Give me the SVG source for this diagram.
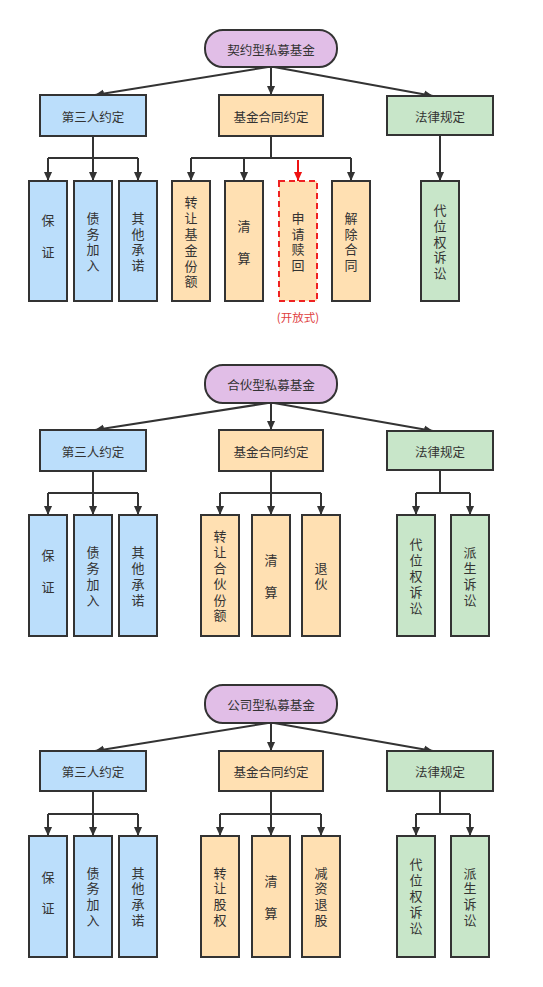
<svg xmlns="http://www.w3.org/2000/svg" width="543" height="987" viewBox="0 0 543 987">
<style>
  text { font-family: "Noto Sans CJK SC", "Noto Sans", sans-serif; fill: #333; dominant-baseline: central; text-anchor: middle; }
  .t { font-size: 12.5px; }
  .v { font-size: 13px; writing-mode: vertical-rl; letter-spacing: 2.8px; }
  .root { fill: #e1bee7; stroke: #333; stroke-width: 2; }
  .blue { fill: #bbdefb; stroke: #333; stroke-width: 2; }
  .orange { fill: #ffe0b2; stroke: #333; stroke-width: 2; }
  .green { fill: #c8e6c9; stroke: #333; stroke-width: 2; }
  .dash { fill: #ffe0b2; stroke: #ee2222; stroke-width: 2; stroke-dasharray: 6 4; }
  .c { fill: none; stroke: #333; stroke-width: 2; }
  .a { fill: none; stroke: #333; stroke-width: 2; marker-end: url(#ah); }
  .ar { fill: none; stroke: #ee1111; stroke-width: 2; marker-end: url(#ahr); }
  .red { fill: #e04040; font-size: 11.5px; }
</style>
<defs>
  <marker id="ah" viewBox="0 0 10 10" refX="10" refY="5" markerWidth="9" markerHeight="9" markerUnits="userSpaceOnUse" orient="auto">
    <path d="M0,0.5 L10,5 L0,9.5 z" fill="#333"/>
  </marker>
  <marker id="ahr" viewBox="0 0 10 10" refX="10" refY="5" markerWidth="9" markerHeight="9" markerUnits="userSpaceOnUse" orient="auto">
    <path d="M0,0.5 L10,5 L0,9.5 z" fill="#ee1111"/>
  </marker>
</defs>
<rect width="543" height="987" fill="#fff"/>

<!-- ===== Section 1 ===== -->
<g id="sec1">
  <g id="connectors1">
    <line class="a" x1="268" y1="67" x2="95" y2="95"/>
    <line class="a" x1="271" y1="67" x2="271" y2="95"/>
    <line class="a" x1="274" y1="67" x2="433" y2="96"/>
    <path class="c" d="M93,136 V158 M48,158 H138"/>
    <line class="a" x1="48" y1="158" x2="48" y2="181"/>
    <line class="a" x1="93" y1="158" x2="93" y2="181"/>
    <line class="a" x1="138" y1="158" x2="138" y2="181"/>
    <path class="c" d="M271,136 V158 M191,158 H351"/>
    <line class="a" x1="191" y1="158" x2="191" y2="181"/>
    <line class="a" x1="244" y1="158" x2="244" y2="181"/>
    <line class="ar" x1="298" y1="160" x2="298" y2="181"/>
    <line class="a" x1="351" y1="158" x2="351" y2="181"/>
    <line class="a" x1="440" y1="135" x2="440" y2="181"/>
  </g>
  <g id="s1-root"><rect class="root" x="205" y="30" width="132" height="37" rx="18"/><text class="t" x="271" y="49">契约型私募基金</text></g>
  <g id="s1-third"><rect class="blue" x="40" y="95" width="106" height="41"/><text class="t" x="93" y="116">第三人约定</text></g>
  <g id="s1-contract"><rect class="orange" x="219" y="95" width="104" height="41"/><text class="t" x="271" y="116">基金合同约定</text></g>
  <g id="s1-law"><rect class="green" x="387" y="96" width="106" height="39"/><text class="t" x="440" y="116">法律规定</text></g>
  <g id="s1-l1"><rect class="blue" x="29" y="181" width="38" height="120"/><text class="v" x="48" y="237.4">保　证</text></g>
  <g id="s1-l2"><rect class="blue" x="74" y="181" width="38" height="120"/><text class="v" x="93" y="243">债务加入</text></g>
  <g id="s1-l3"><rect class="blue" x="119" y="181" width="38" height="120"/><text class="v" x="138" y="243">其他承诺</text></g>
  <g id="s1-m1"><rect class="orange" x="172" y="181" width="38" height="120"/><text class="v" x="191" y="243.4">转让基金份额</text></g>
  <g id="s1-m2"><rect class="orange" x="225" y="181" width="38" height="120"/><text class="v" x="244" y="243.2">清　算</text></g>
  <g id="s1-m3"><rect class="dash" x="279" y="181" width="38" height="120"/><text class="v" x="298" y="243">申请赎回</text><text class="red" x="298" y="317">(开放式)</text></g>
  <g id="s1-m4"><rect class="orange" x="332" y="181" width="38" height="120"/><text class="v" x="351" y="243">解除合同</text></g>
  <g id="s1-r1"><rect class="green" x="421" y="181" width="38" height="120"/><text class="v" x="440" y="243">代位权诉讼</text></g>
</g>

<!-- ===== Section 2 ===== -->
<g id="sec2" transform="translate(0,335)">
  <g id="connectors2">
    <line class="a" x1="268" y1="68" x2="95" y2="95"/>
    <line class="a" x1="271" y1="68" x2="271" y2="95"/>
    <line class="a" x1="274" y1="68" x2="433" y2="96"/>
    <path class="c" d="M93,136 V158 M48,158 H138"/>
    <line class="a" x1="48" y1="158" x2="48" y2="180"/>
    <line class="a" x1="93" y1="158" x2="93" y2="180"/>
    <line class="a" x1="138" y1="158" x2="138" y2="180"/>
    <path class="c" d="M271,136 V158 M220,158 H321"/>
    <line class="a" x1="220" y1="158" x2="220" y2="180"/>
    <line class="a" x1="271" y1="158" x2="271" y2="180"/>
    <line class="a" x1="321" y1="158" x2="321" y2="180"/>
    <path class="c" d="M440,135 V158 M416,158 H470"/>
    <line class="a" x1="416" y1="158" x2="416" y2="180"/>
    <line class="a" x1="470" y1="158" x2="470" y2="180"/>
  </g>
  <g id="s2-root"><rect class="root" x="205" y="30" width="132" height="38" rx="18"/><text class="t" x="271" y="49">合伙型私募基金</text></g>
  <g id="s2-third"><rect class="blue" x="40" y="95" width="106" height="41"/><text class="t" x="93" y="116">第三人约定</text></g>
  <g id="s2-contract"><rect class="orange" x="219" y="95" width="104" height="41"/><text class="t" x="271" y="116">基金合同约定</text></g>
  <g id="s2-law"><rect class="green" x="387" y="96" width="106" height="39"/><text class="t" x="440" y="116">法律规定</text></g>
  <g id="s2-l1"><rect class="blue" x="29" y="180" width="38" height="121"/><text class="v" x="48" y="237.7">保　证</text></g>
  <g id="s2-l2"><rect class="blue" x="74" y="180" width="38" height="121"/><text class="v" x="93" y="242.6">债务加入</text></g>
  <g id="s2-l3"><rect class="blue" x="119" y="180" width="38" height="121"/><text class="v" x="138" y="242.6">其他承诺</text></g>
  <g id="s2-m1"><rect class="orange" x="201" y="180" width="38" height="121"/><text class="v" x="220" y="242.4">转让合伙份额</text></g>
  <g id="s2-m2"><rect class="orange" x="252" y="180" width="38" height="121"/><text class="v" x="271" y="242.4">清　算</text></g>
  <g id="s2-m3"><rect class="orange" x="302" y="180" width="38" height="121"/><text class="v" x="321" y="242.6">退伙</text></g>
  <g id="s2-r1"><rect class="green" x="397" y="180" width="38" height="121"/><text class="v" x="416" y="242.4">代位权诉讼</text></g>
  <g id="s2-r2"><rect class="green" x="451" y="180" width="38" height="121"/><text class="v" x="470" y="242.6">派生诉讼</text></g>
</g>

<!-- ===== Section 3 ===== -->
<g id="sec3" transform="translate(0,655)">
  <g id="connectors3">
    <line class="a" x1="268" y1="68" x2="95" y2="96"/>
    <line class="a" x1="271" y1="68" x2="271" y2="96"/>
    <line class="a" x1="274" y1="68" x2="433" y2="96"/>
    <path class="c" d="M93,136 V159 M48,159 H138"/>
    <line class="a" x1="48" y1="159" x2="48" y2="181"/>
    <line class="a" x1="93" y1="159" x2="93" y2="181"/>
    <line class="a" x1="138" y1="159" x2="138" y2="181"/>
    <path class="c" d="M271,136 V159 M220,159 H321"/>
    <line class="a" x1="220" y1="159" x2="220" y2="181"/>
    <line class="a" x1="271" y1="159" x2="271" y2="181"/>
    <line class="a" x1="321" y1="159" x2="321" y2="181"/>
    <path class="c" d="M440,136 V159 M416,159 H470"/>
    <line class="a" x1="416" y1="159" x2="416" y2="181"/>
    <line class="a" x1="470" y1="159" x2="470" y2="181"/>
  </g>
  <g id="s3-root"><rect class="root" x="205" y="30" width="132" height="38" rx="18"/><text class="t" x="271" y="49">公司型私募基金</text></g>
  <g id="s3-third"><rect class="blue" x="40" y="96" width="106" height="40"/><text class="t" x="93" y="116">第三人约定</text></g>
  <g id="s3-contract"><rect class="orange" x="219" y="96" width="104" height="40"/><text class="t" x="271" y="116">基金合同约定</text></g>
  <g id="s3-law"><rect class="green" x="387" y="96" width="106" height="40"/><text class="t" x="440" y="116">法律规定</text></g>
  <g id="s3-l1"><rect class="blue" x="29" y="181" width="38" height="121"/><text class="v" x="48" y="238.9">保　证</text></g>
  <g id="s3-l2"><rect class="blue" x="74" y="181" width="38" height="121"/><text class="v" x="93" y="242.8">债务加入</text></g>
  <g id="s3-l3"><rect class="blue" x="119" y="181" width="38" height="121"/><text class="v" x="138" y="242.8">其他承诺</text></g>
  <g id="s3-m1"><rect class="orange" x="201" y="181" width="38" height="121"/><text class="v" x="220" y="242.8">转让股权</text></g>
  <g id="s3-m2"><rect class="orange" x="252" y="181" width="38" height="121"/><text class="v" x="271" y="243.4">清　算</text></g>
  <g id="s3-m3"><rect class="orange" x="302" y="181" width="38" height="121"/><text class="v" x="321" y="242.8">减资退股</text></g>
  <g id="s3-r1"><rect class="green" x="397" y="181" width="38" height="121"/><text class="v" x="416" y="242.4">代位权诉讼</text></g>
  <g id="s3-r2"><rect class="green" x="451" y="181" width="38" height="121"/><text class="v" x="470" y="242.8">派生诉讼</text></g>
</g>
</svg>
